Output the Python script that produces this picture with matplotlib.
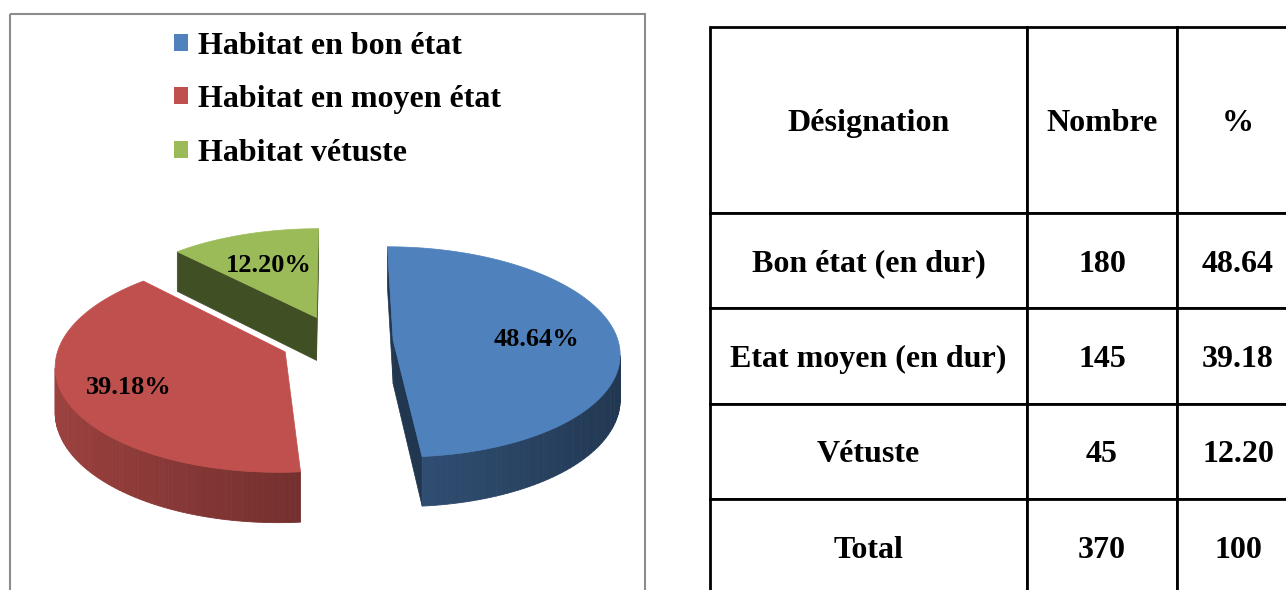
import matplotlib
matplotlib.use("Agg")
import matplotlib.pyplot as plt
from matplotlib.patches import Polygon, Rectangle, Patch
from matplotlib.colors import to_rgb
import numpy as np

plt.rcParams['font.family'] = ['Liberation Serif', 'DejaVu Serif']
plt.rcParams['font.weight'] = 'bold'

# Données
legende = ['Habitat en bon état', 'Habitat en moyen état', 'Habitat vétuste']
colonnes = ['Désignation', 'Nombre', '%']
designations = ['Bon état (en dur)', 'Etat moyen (en dur)', 'Vétuste']
nombres = [180, 145, 45]
pourcentages = [48.64, 39.18, 12.20]
total_nombre = 370
total_pct = 100

couleurs = ['#4F81BD', '#C0504D', '#9BBB59']

fig = plt.figure(figsize=(12.86, 5.90), dpi=100)
ax = fig.add_axes([0, 0, 1, 1])
ax.set_xlim(0, 1286)
ax.set_ylim(590, 0)
ax.axis('off')

# Cadre du graphique
ax.add_patch(Rectangle((10, 14), 635, 600, fill=False, edgecolor='#8c8c8c', lw=1.5))

# Camembert 3D (projection en perspective)
cx, cy = 337, 341
A, B, H = 225, 104, 44
D = 8.75
ecart = 0.25


def proj(x, y, z=0.0):
    s = D / (D + y)
    return cx + A * x * s, cy - B * y * s + H * z * s


def shade(c, f):
    r, g, b = to_rgb(c)
    return (r * f, g * f, b * f)


def visible(px, py, nx, ny):
    # la caméra est placée en (0, -D)
    return nx * (0 - px) + ny * (-D - py) > 0


frac = np.array(pourcentages) / sum(pourcentages)
bornes = np.concatenate([[0], np.cumsum(frac)]) * 2 * np.pi

parts = []
for i in range(len(pourcentages)):
    t0, t1 = bornes[i], bornes[i + 1]
    phi = (t0 + t1) / 2
    parts.append((i, t0, t1, phi, ecart * np.sin(phi), ecart * np.cos(phi)))

z = 1
for i, t0, t1, phi, ox, oy in sorted(parts, key=lambda p: -p[5]):
    col = couleurs[i]
    # faces radiales
    for t, na in ((t0, t0 - np.pi / 2), (t1, t1 + np.pi / 2)):
        mx, my = ox + 0.5 * np.sin(t), oy + 0.5 * np.cos(t)
        if visible(mx, my, np.sin(na), np.cos(na)):
            rx, ry = ox + np.sin(t), oy + np.cos(t)
            pts = [proj(ox, oy), proj(rx, ry), proj(rx, ry, 1), proj(ox, oy, 1)]
            ax.add_patch(Polygon(pts, closed=True, facecolor=shade(col, 0.42),
                                 edgecolor=shade(col, 0.42), lw=0.5, zorder=z))
            z += 1
    # paroi extérieure
    ts = np.linspace(t0, t1, 120)
    for a0, a1 in zip(ts[:-1], ts[1:]):
        tm = (a0 + a1) / 2
        if not visible(ox + np.sin(tm), oy + np.cos(tm), np.sin(tm), np.cos(tm)):
            continue
        f = 0.62 - 0.2 * np.sin(tm)
        pts = [proj(ox + np.sin(a0), oy + np.cos(a0)),
               proj(ox + np.sin(a1), oy + np.cos(a1)),
               proj(ox + np.sin(a1), oy + np.cos(a1), 1),
               proj(ox + np.sin(a0), oy + np.cos(a0), 1)]
        ax.add_patch(Polygon(pts, closed=True, facecolor=shade(col, f),
                             edgecolor=shade(col, f), lw=0.6, zorder=z))
    z += 1
    # face supérieure
    pts = [proj(ox, oy)] + [proj(ox + np.sin(t), oy + np.cos(t)) for t in ts]
    ax.add_patch(Polygon(pts, closed=True, facecolor=col, edgecolor=col,
                         lw=0.5, zorder=z))
    z += 1

for i, t0, t1, phi, ox, oy in parts:
    r = 0.72 if i == 1 else 0.64
    lx, ly = proj(ox + r * np.sin(phi), oy + r * np.cos(phi))
    ax.text(lx, ly, f'{pourcentages[i]:.2f}%', ha='center', va='center_baseline',
            fontsize=19, fontweight='bold', zorder=50)

# Légende
handles = [Patch(facecolor=c, edgecolor='none') for c in couleurs]
ax.legend(handles, legende, loc='upper left', bbox_to_anchor=(174, 32),
          bbox_transform=ax.transData, frameon=False,
          prop={'weight': 'bold', 'size': 23}, handlelength=0.45,
          handleheight=0.45, handletextpad=0.3, labelspacing=0.76,
          borderpad=0, borderaxespad=0)

# Tableau
tab_ax = fig.add_axes([710 / 1286, -6 / 590, 589 / 1286, 569 / 590])
tab_ax.axis('off')
lignes = [colonnes]
for d, n, p in zip(designations, nombres, pourcentages):
    lignes.append([d, str(n), f'{p:.2f}'])
lignes.append(['Total', str(total_nombre), str(total_pct)])

tbl = tab_ax.table(cellText=lignes, cellLoc='center', colWidths=[317, 150, 122],
                   bbox=[0, 0, 1, 1])
tbl.auto_set_font_size(False)
hauteurs = [186, 95, 96, 95, 97]
for (r, c), cell in tbl.get_celld().items():
    cell.set_height(hauteurs[r])
    cell.set_linewidth(2)
    cell.set_edgecolor('black')
    cell.get_text().set_fontsize(23)
    cell.get_text().set_fontweight('bold')
    cell.get_text().set_va('center_baseline')

fig.savefig('out.png', dpi=100)
